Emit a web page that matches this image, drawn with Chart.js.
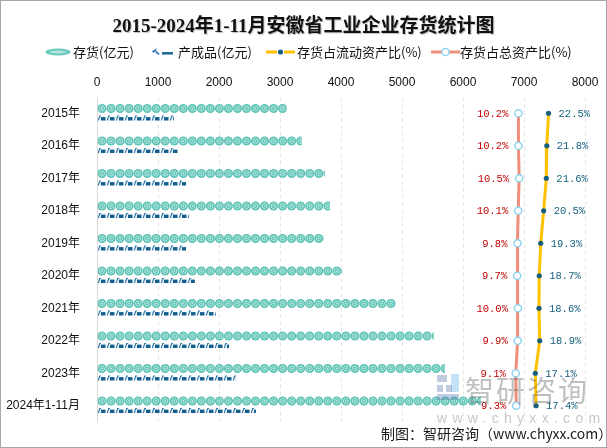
<!DOCTYPE html>
<html>
<head>
<meta charset="utf-8">
<script src="https://cdn.jsdelivr.net/npm/chart.js@4.4.1/dist/chart.umd.min.js"></script>
<style>
html, body { margin: 0; padding: 0; background: #fff; }
#wrap { position: relative; width: 607px; height: 448px; overflow: hidden; font-family: 'Noto Sans CJK SC', sans-serif; }
#chart { position: absolute; left: 0; top: 0; }
#frame { position: absolute; left: 0; top: 0; width: 607px; height: 448px; box-sizing: border-box; border: 1px solid #a6a6a6; pointer-events: none; }
.title { position: absolute; left: 0; width: 607px; top: 10px; text-align: center; font: bold 19px 'Liberation Serif', 'Noto Sans CJK SC', serif; color: #111; text-shadow: 1px 1px 1px rgba(0,0,0,0.25); }
.lg { position: absolute; top: 44px; height: 16px; line-height: 16px; font-size: 13px; color: #111; white-space: nowrap; }
.ic { position: absolute; }
.foot { position: absolute; left: 381px; top: 424px; font-size: 14px; line-height: 18px; color: #1a1a1a; white-space: nowrap; }
.wm { position: absolute; left: 465px; top: 368px; font-size: 29px; letter-spacing: 2px; color: rgba(105,105,105,0.42); white-space: nowrap; }
.wm2 { position: absolute; left: 437px; top: 410px; font: 14px 'Liberation Sans', sans-serif; letter-spacing: 5.3px; color: rgba(130,130,130,0.45); white-space: nowrap; }
.logo { position: absolute; background: rgba(95,120,175,0.38); }
</style>
</head>
<body>
<div id="wrap">
  <canvas id="chart" width="607" height="448"></canvas>
  <div class="title">2015-2024年1-11月安徽省工业企业存货统计图</div>

  <svg class="ic" style="left:45px;top:48px" width="26" height="8"><ellipse cx="13" cy="4" rx="12.5" ry="3.6" fill="#6ccabd"/><ellipse cx="13" cy="4" rx="8" ry="1.5" fill="#b3e5dd"/></svg>
  <div class="lg" style="left:73px">存货(亿元)</div>
  <svg class="ic" style="left:151px;top:47px" width="24" height="10"><path d="M1 4 L6 1 L5 3.5 L9 7 L7 8 L4 5 L2 6 Z" fill="#4a86b8"/><rect x="11" y="5" width="11" height="2.6" fill="#1f6c97"/></svg>
  <div class="lg" style="left:178px">产成品(亿元)</div>
  <svg class="ic" style="left:266px;top:47px" width="30" height="10"><line x1="0" y1="5" x2="11" y2="5" stroke="#ffc000" stroke-width="3"/><line x1="18" y1="5" x2="29" y2="5" stroke="#ffc000" stroke-width="3"/><circle cx="14.5" cy="5" r="2.6" fill="#175f7f"/></svg>
  <div class="lg" style="left:297px">存货占流动资产比(%)</div>
  <svg class="ic" style="left:431px;top:47px" width="30" height="10"><line x1="0" y1="5" x2="29" y2="5" stroke="#ef8f7b" stroke-width="3"/><circle cx="14.5" cy="5" r="3.6" fill="#fff" stroke="#8fd3ef" stroke-width="1.5"/></svg>
  <div class="lg" style="left:460px">存货占总资产比(%)</div>

  <div class="logo" style="left:437px;top:375px;width:10px;height:7px"></div>
  <div class="logo" style="left:437px;top:385px;width:6px;height:7px"></div>
  <div class="logo" style="left:446px;top:385px;width:6px;height:7px"></div>
  <div class="logo" style="left:437px;top:394px;width:22px;height:6px"></div>
  <div class="logo" style="left:451px;top:374px;width:8px;height:18px;background:rgba(90,170,225,0.35)"></div>
  <div class="wm">智研咨询</div>
  <div class="wm2">www.chyxx.com</div>

  <div class="foot">制图：智研咨询（www.chyxx.com）</div>
  <div id="frame"></div>
</div>
<script>
// data
const years = ['2015年', '2016年', '2017年', '2018年', '2019年', '2020年', '2021年', '2022年', '2023年', '2024年1-11月'];
const inventory = [3110, 3355, 3735, 3820, 3715, 4020, 4900, 5520, 5705, 6290];
const finished = [1260, 1335, 1460, 1510, 1460, 1605, 1950, 2165, 2280, 2605];
const shareCurrent = [22.5, 21.8, 21.6, 20.5, 19.3, 18.7, 18.6, 18.9, 17.1, 17.4];
const shareTotal = [10.2, 10.2, 10.5, 10.1, 9.8, 9.7, 10.0, 9.9, 9.1, 9.3];
const xMax = 8000;
const xStep = 1000;

function drawCircles(ctx, left, right, cy, h) {
  const r = h / 2;
  for (let cx = left + r; cx - r < right; cx += h) {
    ctx.beginPath(); ctx.arc(cx, cy, r, 0, Math.PI * 2); ctx.fillStyle = '#5fc3b6'; ctx.fill();
    ctx.beginPath(); ctx.arc(cx, cy, r * 0.55, 0, Math.PI * 2); ctx.strokeStyle = '#b4e6de'; ctx.lineWidth = 1; ctx.stroke();
    ctx.fillStyle = '#d9f3ef'; ctx.fillRect(cx - 0.7, cy - 0.7, 1.4, 1.4);
  }
}

function drawFish(ctx, left, right, top, h) {
  const bottom = top + h;
  for (let x = left; x < right; x += 9) {
    ctx.strokeStyle = '#2f7bb0'; ctx.lineWidth = 1.2;
    ctx.beginPath(); ctx.moveTo(x + 0.8, bottom); ctx.lineTo(x + 2.2, top + 0.5); ctx.lineTo(x + 3.6, top + 0.5); ctx.stroke();
    ctx.fillStyle = '#155f8e';
    ctx.fillRect(x + 3.4, top + 1.6, 4.6, h - 1.6);
  }
}

const glyphPlugin = {
  id: 'glyphs',
  afterDatasetDraw(chart, args) {
    const i = args.index;
    if (i > 1) return;
    const ctx = chart.ctx;
    args.meta.data.forEach(function(bar) {
      const p = bar.getProps(['x', 'y', 'base', 'height'], true);
      const left = Math.min(p.base, p.x), right = Math.max(p.base, p.x);
      const top = p.y - p.height / 2;
      ctx.save();
      ctx.beginPath(); ctx.rect(left, top - 1, right - left, p.height + 2); ctx.clip();
      if (i === 0) drawCircles(ctx, left, right, p.y, p.height);
      else drawFish(ctx, left, right, top, p.height);
      ctx.restore();
    });
  }
};

const labelPlugin = {
  id: 'pctLabels',
  afterDatasetsDraw(chart) {
    const ctx = chart.ctx;
    ctx.save();
    ctx.font = "10.5px 'Liberation Mono', 'DejaVu Sans Mono', monospace";
    ctx.textBaseline = 'middle';
    [2, 3].forEach(function(di) {
      const ds = chart.data.datasets[di];
      chart.getDatasetMeta(di).data.forEach(function(pt, k) {
        const txt = ds.data[k].toFixed(1) + '%';
        if (di === 2) { ctx.fillStyle = '#17617f'; ctx.textAlign = 'left'; ctx.fillText(txt, pt.x + 10, pt.y + 0.5); }
        else { ctx.fillStyle = '#c00000'; ctx.textAlign = 'right'; ctx.fillText(txt, pt.x - 10, pt.y + 0.5); }
      });
    });
    ctx.restore();
  }
};

new Chart(document.getElementById('chart').getContext('2d'), {
  data: {
    labels: years,
    datasets: [
      { type: 'bar', label: '存货(亿元)', data: inventory, backgroundColor: 'rgba(0,0,0,0)', barPercentage: 0.95, categoryPercentage: 0.585, xAxisID: 'x', order: 3 },
      { type: 'bar', label: '产成品(亿元)', data: finished, backgroundColor: 'rgba(0,0,0,0)', barPercentage: 0.53, categoryPercentage: 0.585, xAxisID: 'x', order: 4 },
      { type: 'line', indexAxis: 'y', label: '存货占流动资产比(%)', data: shareCurrent, xAxisID: 'x2', borderColor: '#ffc000', borderWidth: 3, pointRadius: 2.6, pointBackgroundColor: '#175f7f', pointBorderColor: '#175f7f', pointBorderWidth: 0, tension: 0, order: 1 },
      { type: 'line', indexAxis: 'y', label: '存货占总资产比(%)', data: shareTotal, xAxisID: 'x2', borderColor: '#ef8f7b', borderWidth: 3, pointRadius: 3.6, pointBackgroundColor: '#fff', pointBorderColor: '#8fd3ef', pointBorderWidth: 1.5, tension: 0, order: 2 }
    ]
  },
  options: {
    indexAxis: 'y',
    responsive: false,
    animation: false,
    layout: { padding: { left: 0, top: 70, right: 22, bottom: 26 } },
    plugins: { legend: { display: false }, tooltip: { enabled: false } },
    scales: {
      x: {
        type: 'linear', position: 'top', min: 0, max: xMax,
        ticks: { stepSize: xStep, padding: 7, color: '#111', font: { size: 12, family: "'Liberation Sans', sans-serif" }, callback: function(v) { return String(v); } },
        grid: { color: function(c) { return c.index === 0 ? '#d9d9d9' : '#e6e6e6'; }, drawTicks: false, lineWidth: 1 },
        border: { display: false, dash: function(c) { return c.index === 0 ? [] : [4, 3]; } },
        afterFit: function(s) { s.height = 27; }
      },
      x2: { type: 'linear', display: false, min: -162, max: 37.4 },
      y: {
        type: 'category',
        ticks: { padding: 9, color: '#111', font: { size: 12, family: "'Liberation Sans', 'Noto Sans CJK SC', sans-serif" } },
        grid: { display: false },
        border: { display: true, color: '#d9d9d9' },
        afterFit: function(s) { s.width = 97; }
      }
    }
  },
  plugins: [glyphPlugin, labelPlugin]
});
</script>
</body>
</html>
